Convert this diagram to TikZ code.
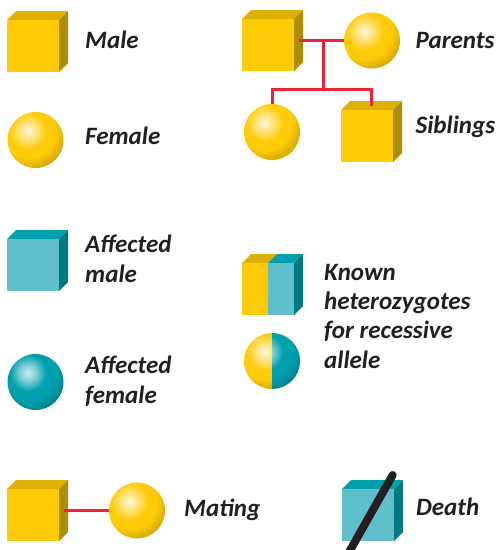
\documentclass[tikz,border=0pt]{standalone}
\usepackage{fontspec}
\setmainfont{Carlito}
\usetikzlibrary{calc}

\definecolor{yellowface}{HTML}{FFCB08}
\definecolor{yellowtop}{HTML}{DDB006}
\definecolor{yellowside}{HTML}{AE8C05}
\definecolor{tealface}{HTML}{5FC0CC}
\definecolor{tealtop}{HTML}{00A0AE}
\definecolor{tealside}{HTML}{007882}
\definecolor{linkred}{HTML}{ED2233}
\definecolor{inkblack}{HTML}{231F20}

\pgfdeclareradialshading{yellowball}{\pgfpointorigin}{
  color(0bp)=(white!85!yellowface); color(5bp)=(white!50!yellowface);
  color(11.5bp)=(yellowface); color(17bp)=(yellowface); color(25bp)=(yellowside!60!yellowface); color(50bp)=(yellowside!60!yellowface)}
\pgfdeclareradialshading{tealball}{\pgfpointorigin}{
  color(0bp)=(white!80!tealtop); color(5bp)=(white!50!tealtop);
  color(11.5bp)=(tealtop); color(17bp)=(tealtop); color(25bp)=(tealside!80!tealtop); color(50bp)=(tealside!80!tealtop)}

\tikzset{
  label text/.style={anchor=base west, inner sep=0, align=left, text=inkblack,
    font=\fontsize{25}{29.2}\selectfont\bfseries\itshape},
  link/.style={linkred, line width=3pt},
  ball/.style={circle, minimum size=56, inner sep=0, outer sep=0, path picture={
      \shade[shading=#1] ($(path picture bounding box.center)+(-7.5,-9)$) circle (40);}},
  half ball/.style={circle, minimum size=56, inner sep=0, outer sep=0, path picture={
      \shade[shading=yellowball] ($(path picture bounding box.center)+(-7.5,-9)$) circle (40);
      \fill[white] (path picture bounding box.north) rectangle (path picture bounding box.south east);
      \begin{scope}
        \clip (path picture bounding box.north) rectangle (path picture bounding box.south east);
        \shade[shading=tealball] ($(path picture bounding box.center)+(-7.5,-9)$) circle (40);
      \end{scope}}}
}

% Box with its top and side faces: name, left, top, colour
\newcommand{\cubesym}[4]{
  \fill[#4top] (#2,#3) -- ++(9,-9) -- ++(52,0) -- ++(-9,9) -- cycle;
  \fill[#4side] (#2+52,#3) -- ++(9,-9) -- ++(0,52) -- ++(-9,9) -- cycle;
  \node[fill=#4face, minimum size=52, inner sep=0, outer sep=0, anchor=north west] (#1) at (#2,#3) {};
  \coordinate (#1-top) at (#2+30.5,#3-4.5);
  \coordinate (#1-side) at (#2+56.5,#3+21.5);
}

\begin{document}
\begin{tikzpicture}[x=1pt, y=-1pt]
        \useasboundingbox (0,0) rectangle (499,550);

        % Left column
        \cubesym{male}{7}{20}{yellow}
        \node[label text] (maletext) at (85,48) {Male};
        \node[ball=yellowball] (female) at (35.5,140) {};
        \node[label text] (femaletext) at (85,144) {Female};

        \cubesym{sickmale}{7}{239}{teal}
        \node[label text] (sickmaletext) at (85,282) {Affected\\male};
        \node[ball=tealball] (sickfemale) at (35.5,382) {};
        \node[label text] (sickfemaletext) at (85,403) {Affected\\female};

        % Family
        \cubesym{father}{242}{19}{yellow}
        \node[ball=yellowball] (mother) at (372,40.5) {};
        \node[ball=yellowball] (daughter) at (272,132) {};
        \cubesym{son}{341}{110}{yellow}
        \coordinate (couple) at (323,40.5);
        \coordinate (kids) at (323,89);
        \draw[link] (father-side) -- (mother.west);
        \draw[link] (couple) -- (kids);
        \draw[link] (daughter.north) |- (kids) -| (son-top);
        \node[label text] (parentstext) at (415.5,48) {Parents};
        \node[label text] (siblingstext) at (415.5,133) {Siblings};

        % Heterozygotes
        \fill[yellowtop] (242,263) -- ++(9,-9) -- ++(26,0) -- ++(-9,9) -- cycle;
        \fill[tealtop] (268,263) -- ++(9,-9) -- ++(26,0) -- ++(-9,9) -- cycle;
        \fill[tealside] (294,263) -- ++(9,-9) -- ++(0,52) -- ++(-9,9) -- cycle;
        \node[fill=yellowface, minimum width=26, minimum height=52, inner sep=0, outer sep=0, anchor=north west] (hetleft) at (242,263) {};
        \node[fill=tealface, minimum width=26, minimum height=52, inner sep=0, outer sep=0, anchor=north west] (hetright) at (268,263) {};
        \node[half ball] (hetball) at (272,361) {};
        \node[label text] (hettext) at (324,368) {Known\\heterozygotes\\for recessive\\allele};

        % Bottom row
        \cubesym{mate}{7}{489}{yellow}
        \node[ball=yellowball] (matefemale) at (137,510.5) {};
        \draw[link] (mate-side) -- (matefemale.west);
        \node[label text] (matingtext) at (184,516) {Mating};

        \cubesym{dead}{342}{489}{teal}
        \coordinate (slashtop) at (392.7,475);
        \coordinate (slashbottom) at (348,554);
        \begin{scope}
          \clip (0,0) rectangle (499,550);
          \draw[inkblack, line width=8pt, line cap=round] (slashtop) -- (slashbottom);
        \end{scope}
        \node[label text] (deathtext) at (416,515) {Death};

\end{tikzpicture}
\end{document}
